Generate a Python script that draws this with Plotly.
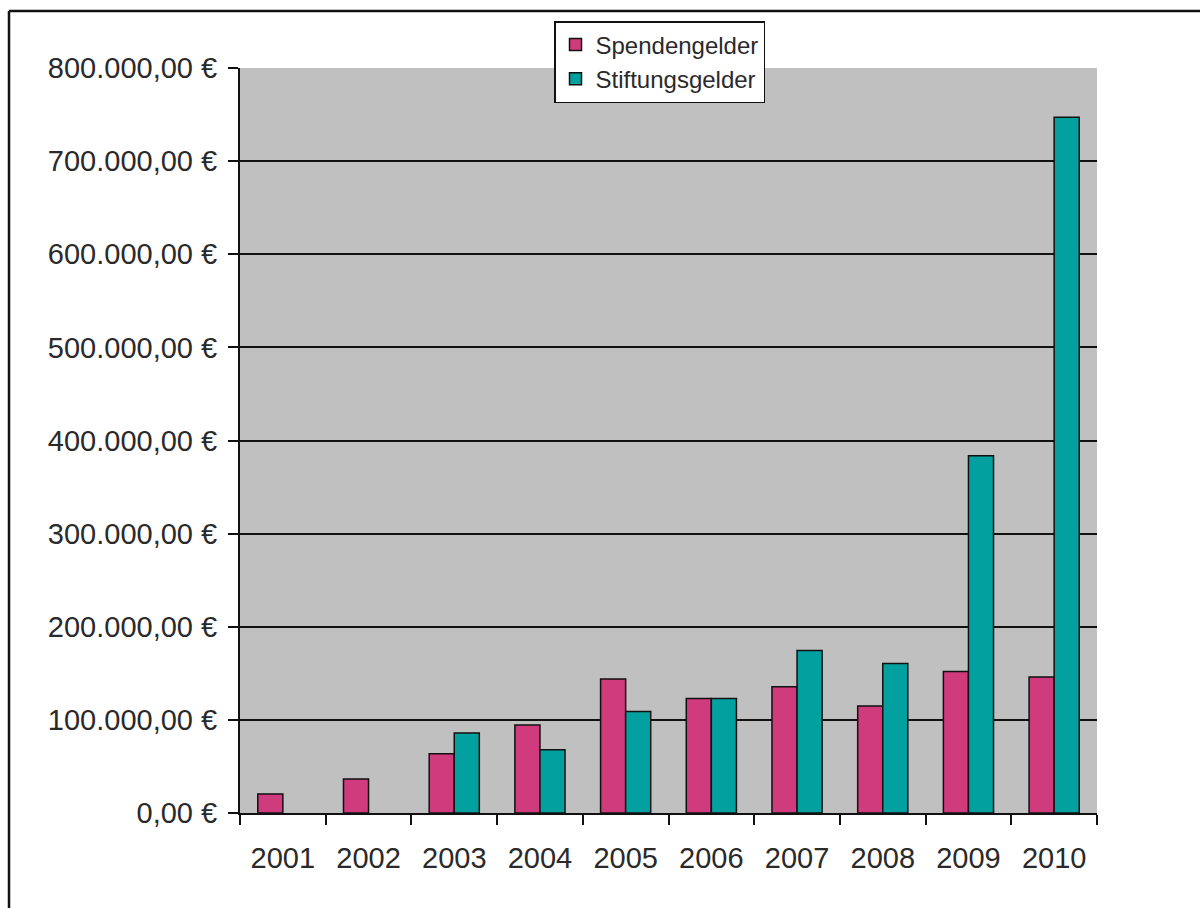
import plotly.graph_objects as go

years = ["2001", "2002", "2003", "2004", "2005", "2006", "2007", "2008", "2009", "2010"]
spendengelder = [20500, 36500, 63500, 94500, 144000, 123000, 135500, 115000, 152000, 146000]
stiftungsgelder = [None, None, 86000, 68000, 109000, 123000, 174500, 160500, 383500, 747000]
y_tickvals = [0, 100000, 200000, 300000, 400000, 500000, 600000, 700000, 800000]
y_ticktext = ["0,00 €", "100.000,00 €", "200.000,00 €", "300.000,00 €", "400.000,00 €",
              "500.000,00 €", "600.000,00 €", "700.000,00 €", "800.000,00 €"]

FONT = "Liberation Sans, Arial, sans-serif"
TXT = "#2a2a2a"

fig = go.Figure()
fig.add_trace(go.Bar(x=years, y=spendengelder, name="Spendengelder",
                     marker=dict(color="#CF3B7C", line=dict(color="#111111", width=1.5))))
fig.add_trace(go.Bar(x=years, y=stiftungsgelder, name="Stiftungsgelder",
                     marker=dict(color="#03A0A0", line=dict(color="#111111", width=1.5))))

L, R, T, B = 240, 1097, 68, 813
W, H = 1200, 908
pw, ph = R - L, B - T

def px(xp):
    return (xp - L) / pw

def py(yp):
    return (B - yp) / ph

fig.update_layout(
    width=W, height=H,
    margin=dict(l=L, r=W - R, t=T, b=H - B, pad=0),
    paper_bgcolor="white",
    plot_bgcolor="#C0C0C0",
    barmode="group",
    bargap=0.415,
    bargroupgap=0,
    font=dict(family=FONT, color=TXT),
    legend=dict(
        x=px(554), y=py(21), xanchor="left", yanchor="top",
        bgcolor="white", bordercolor="#111111", borderwidth=1.5,
        font=dict(size=24, family=FONT, color=TXT),
        orientation="v", tracegroupgap=0, itemwidth=30,
    ),
    showlegend=True,
)
fig.update_xaxes(
    type="category",
    showgrid=False,
    showline=True, linecolor="#111111", linewidth=2,
    ticks="outside", tickson="boundaries", ticklen=10, tickwidth=2, tickcolor="#111111",
    tickfont=dict(size=29, family=FONT, color=TXT),
    ticklabelstandoff=18,
    fixedrange=True,
)
fig.update_yaxes(
    range=[0, 800000],
    tickvals=y_tickvals, ticktext=y_ticktext,
    showgrid=True, gridcolor="#111111", gridwidth=2,
    showline=True, linecolor="#111111", linewidth=2,
    ticks="outside", ticklen=10, tickwidth=2, tickcolor="#111111",
    tickfont=dict(size=29, family=FONT, color=TXT),
    ticklabelstandoff=5,
    zeroline=False,
    fixedrange=True,
)

# outer frame of the chart (left and top edges visible, others run off the picture)
frame_x = px(9)
frame_y = py(11)
fig.add_shape(type="line", xref="paper", yref="paper",
              x0=frame_x, x1=frame_x, y0=py(H + 20), y1=frame_y,
              line=dict(color="#111111", width=2.5))
fig.add_shape(type="line", xref="paper", yref="paper",
              x0=frame_x, x1=px(W + 20), y0=frame_y, y1=frame_y,
              line=dict(color="#111111", width=2.5))

fig.write_html("out.html")
